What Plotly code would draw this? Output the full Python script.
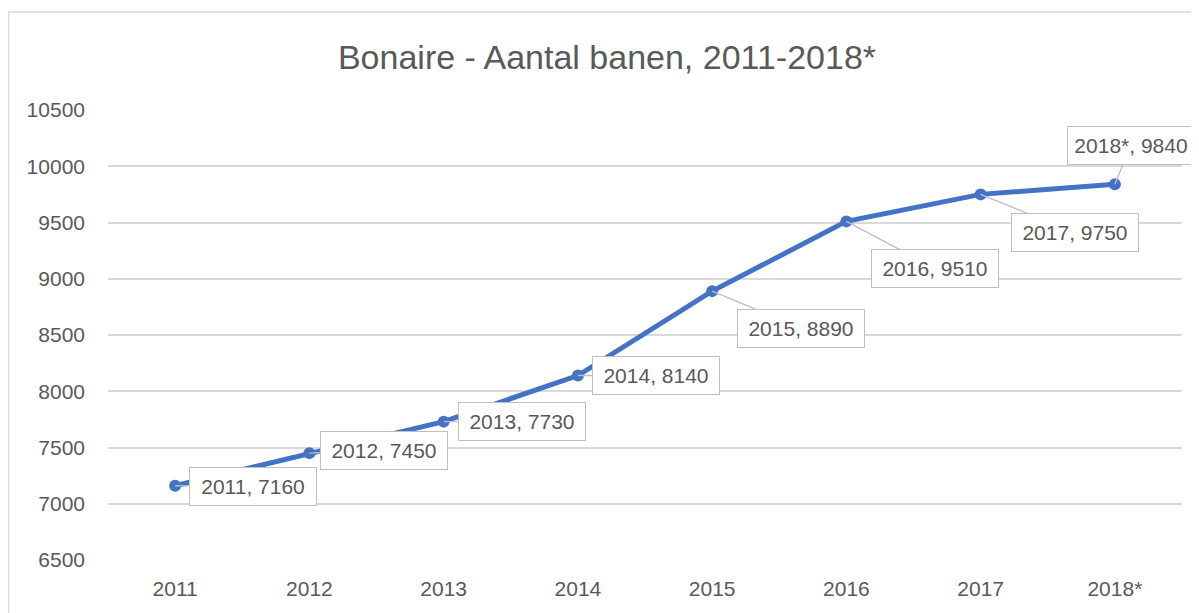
import plotly.graph_objects as go

years = ["2011", "2012", "2013", "2014", "2015", "2016", "2017", "2018*"]
jobs = [7160, 7450, 7730, 8140, 8890, 9510, 9750, 9840]
y_ticks = [6500, 7000, 7500, 8000, 8500, 9000, 9500, 10000, 10500]

# label offsets in pixels (callout placement)
label_ax = [78, 75, 78, 78, 89, 89, 94, 16]
label_ay = [1, -3, 0, 0, 37, 47, 38, -39]

# page has an 8px body margin, so the figure is sized to fit the window
W, H = 1191, 605
ml, mr, mt, mb = 100, 17, 102, 53
FONT = "Liberation Sans, Arial"
TXT = "#595959"

fig = go.Figure()
fig.add_trace(go.Scatter(
    x=years, y=jobs, mode="lines+markers",
    line=dict(color="#4472C4", width=5),
    marker=dict(color="#4472C4", size=12),
    hoverinfo="x+y", showlegend=False,
))

for i, (yr, v, ax, ay) in enumerate(zip(years, jobs, label_ax, label_ay)):
    fig.add_annotation(
        x=i, y=v, xref="x", yref="y", text=f"{yr}, {v}",
        showarrow=True, arrowhead=0, arrowwidth=1.3, arrowcolor="#bfbfbf",
        ax=ax, ay=ay, standoff=0,
        font=dict(family=FONT, size=21, color=TXT),
        width=114, height=25,
        bgcolor="white", bordercolor="#bfbfbf", borderwidth=1, borderpad=6,
    )

pw = W - ml - mr
ph = H - mt - mb
fig.add_shape(type="rect", xref="paper", yref="paper",
              x0=(0.5 - ml) / pw, x1=(W + 5 - ml) / pw,
              y0=-(H + 5 - mt - ph) / ph, y1=1 + (mt - 4) / ph,
              line=dict(color="#d9d9d9", width=1.5), fillcolor="rgba(0,0,0,0)",
              layer="below")

fig.update_layout(
    width=W, height=H, autosize=False,
    margin=dict(l=ml, r=mr, t=mt, b=mb),
    paper_bgcolor="white", plot_bgcolor="white",
    title=dict(text="Bonaire - Aantal banen, 2011-2018*", x=599 / W, xanchor="center",
               y=1 - 49 / H, yanchor="middle",
               font=dict(family=FONT, size=34, color=TXT)),
    xaxis=dict(type="category", showgrid=False, zeroline=False, showline=False,
               ticks="", tickfont=dict(family=FONT, size=21, color=TXT),
               range=[-0.5, 7.5], ticklabelstandoff=14),
    yaxis=dict(range=[6500, 10500], tickvals=y_ticks, tickformat="d",
               showgrid=True, gridcolor="#d9d9d9",
               gridwidth=1.5, zeroline=False, showline=False, ticks="",
               tickfont=dict(family=FONT, size=21, color=TXT),
               ticklabelstandoff=22),
)

fig.write_html("out.html")
